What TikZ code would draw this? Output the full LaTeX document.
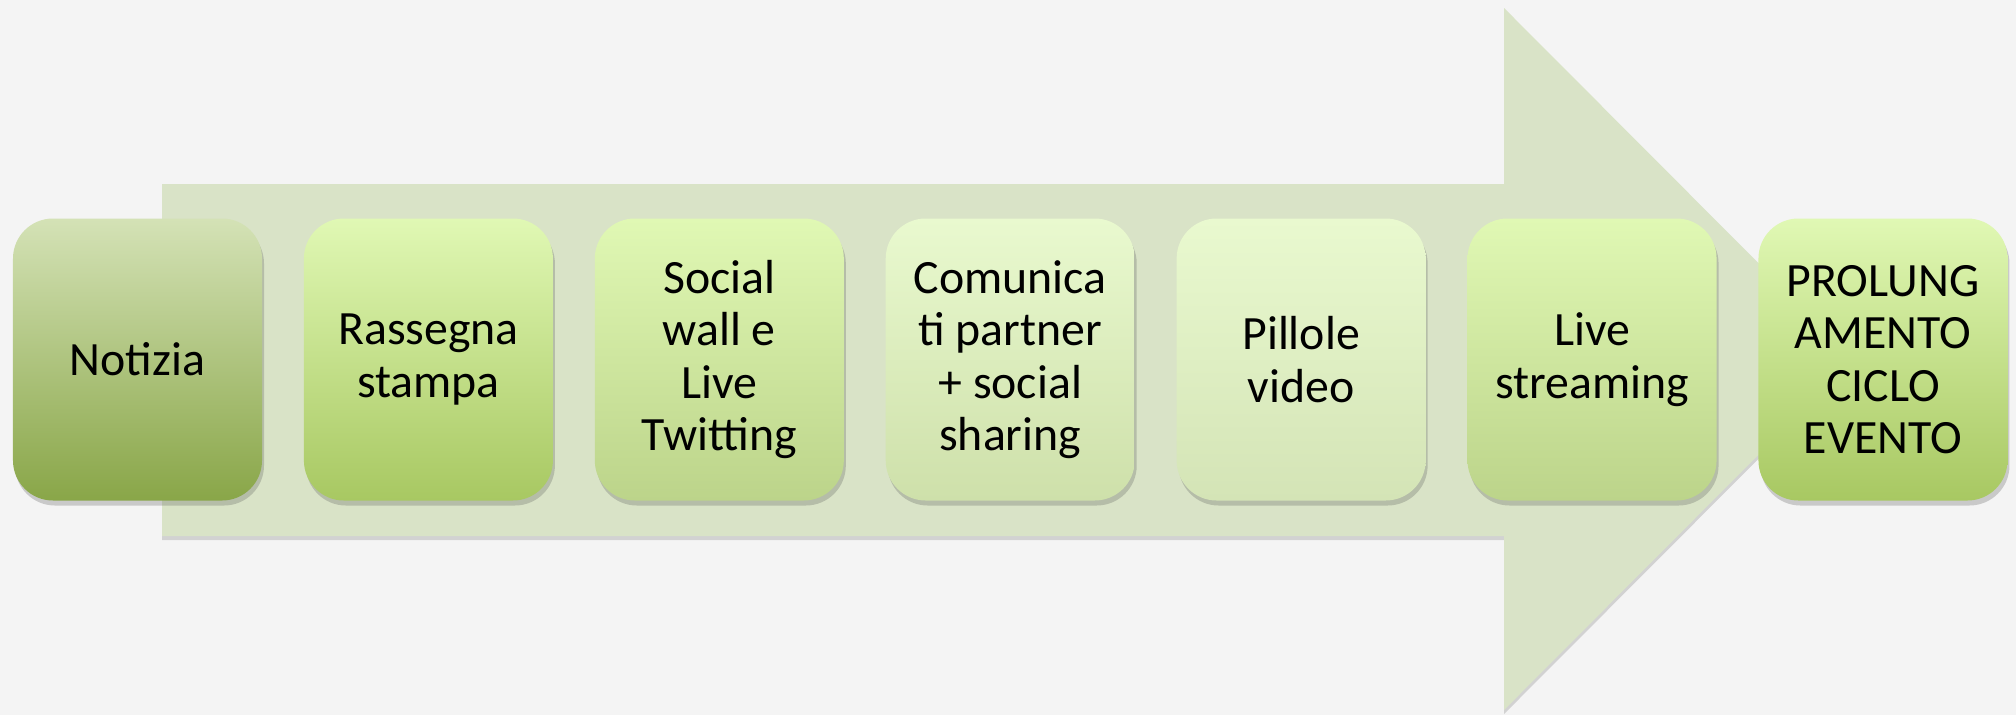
\documentclass[tikz,border=0pt]{standalone}
\usepackage{fontspec}
\setmainfont{Carlito}
\usetikzlibrary{positioning, shadows}

\definecolor{pagebg}{RGB}{244,244,244}
\definecolor{arrowfill}{RGB}{217,227,199}
\definecolor{notiziaTop}{RGB}{212,226,182}
\definecolor{notiziaBot}{RGB}{137,166,72}
\definecolor{stepTop}{RGB}{224,248,180}
\definecolor{stepBot}{RGB}{168,200,98}
\definecolor{socialBot}{RGB}{188,212,138}
\definecolor{paleTop}{RGB}{233,249,207}
\definecolor{paleBot}{RGB}{206,224,170}
\definecolor{pilloleBot}{RGB}{212,228,182}

\tikzset{
    stepbox/.style={
        rectangle, rounded corners=0.4cm, draw=none,
        minimum width=2.49cm, minimum height=2.82cm,
        align=center, inner sep=2pt,
        font=\fontsize{13.6}{14.9}\selectfont,
        drop shadow={shadow xshift=0.02cm, shadow yshift=-0.05cm, opacity=0.25, fill=black!70}
    },
}

\begin{document}
\begin{tikzpicture}[node distance=0.405cm]

            % Background
            \fill[pagebg] (0,0) rectangle (20.16,7.15);
            \useasboundingbox (0,0) rectangle (20.16,7.15);

            % Big arrow behind the steps
            \fill[arrowfill, drop shadow={shadow xshift=0cm, shadow yshift=-0.04cm, opacity=0.2, fill=black!70}]
                (1.62,5.31) -- (15.04,5.31) -- (15.04,7.07) -- (18.54,3.56)
                -- (15.04,0.05) -- (15.04,1.79) -- (1.62,1.79) -- cycle;

            % Steps
            \node[stepbox, top color=notiziaTop, bottom color=notiziaBot] (notizia) at (1.375,3.555) {Notizia};
            \node[stepbox, top color=stepTop, bottom color=stepBot, right=of notizia] (rassegna) {Rassegna\\stampa};
            \node[stepbox, top color=stepTop, bottom color=socialBot, right=of rassegna] (social) {Social\\wall e\\Live\\Twitting};
            \node[stepbox, top color=paleTop, bottom color=paleBot, right=of social] (comunicati) {Comunica\\ti partner\\+ social\\sharing};
            \node[stepbox, top color=paleTop, bottom color=pilloleBot, right=of comunicati] (pillole) {Pillole\\video};
            \node[stepbox, top color=stepTop, bottom color=socialBot, right=of pillole] (live) {Live\\streaming};
            \node[stepbox, top color=stepTop, bottom color=stepBot, right=of live] (prolung) {PROLUNG\\AMENTO\\CICLO\\EVENTO};

        \end{tikzpicture}
\end{document}
